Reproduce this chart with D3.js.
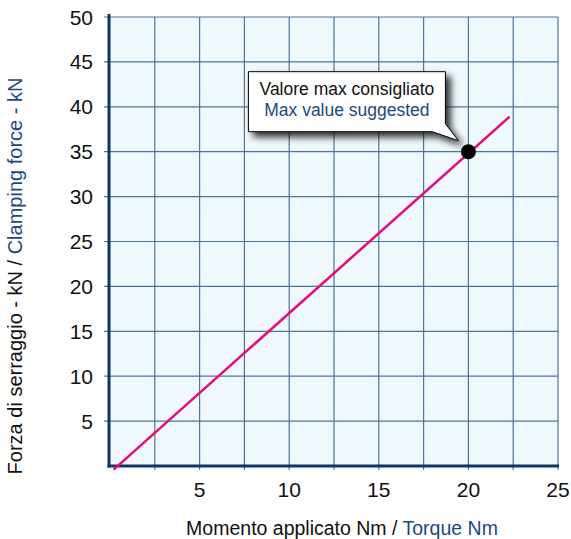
<!DOCTYPE html>
<html>
<head>
<meta charset="utf-8">
<script src="https://cdn.jsdelivr.net/npm/d3@7"></script>
<style>
  body { margin: 0; background: #fff; }
  svg { display: block; }
  text { font-family: "Liberation Sans Narrow", "Arial Narrow", "Liberation Sans", Arial, sans-serif; }
</style>
</head>
<body>
<div class="container"></div>
<script>
var xTicks = [5, 10, 15, 20, 25];
var yTicks = [5, 10, 15, 20, 25, 30, 35, 40, 45, 50];
var xGrid = [2.5, 5, 7.5, 10, 12.5, 15, 17.5, 20, 22.5, 25];

// torque (Nm) vs clamping force (kN)
var torque = [0.2, 22.3];
var force = [-0.4, 38.9];

var maxPoint = { torque: 20, force: 35 };
var calloutLines = ["Valore max consigliato", "Max value suggested"];

var svgWidth = 571;
var svgHeight = 539;

var margin = { top: 17, left: 110, right: 13, bottom: 73 };
var chartWidth = svgWidth - margin.left - margin.right;
var chartHeight = svgHeight - margin.top - margin.bottom;

var svg = d3.select(".container")
    .append("svg")
    .attr("width", svgWidth)
    .attr("height", svgHeight);

var defs = svg.append("defs");
var shadow = defs.append("filter")
    .attr("id", "shadow")
    .attr("x", "-20%").attr("y", "-20%")
    .attr("width", "150%").attr("height", "160%");
shadow.append("feDropShadow")
    .attr("dx", 5).attr("dy", 5)
    .attr("stdDeviation", 3.5)
    .attr("flood-color", "#000")
    .attr("flood-opacity", 0.8);

var chartGroup = svg.append("g")
    .attr("transform", `translate(${margin.left}, ${margin.top})`);

var x = d3.scaleLinear().domain([0, 25]).range([0, chartWidth]);
var y = d3.scaleLinear().domain([0, 50]).range([chartHeight, 0]);

chartGroup.append("rect")
    .attr("width", chartWidth)
    .attr("height", chartHeight)
    .attr("fill", "#eff8fc");

// grid
chartGroup.selectAll(".vgrid")
    .data(xGrid)
    .enter()
    .append("line")
    .attr("x1", d => x(d)).attr("x2", d => x(d))
    .attr("y1", 0).attr("y2", chartHeight + 4)
    .attr("stroke", "#4f7397")
    .attr("stroke-width", 1.2);

chartGroup.selectAll(".hgrid")
    .data(yTicks)
    .enter()
    .append("line")
    .attr("x1", -6).attr("x2", chartWidth)
    .attr("y1", d => y(d)).attr("y2", d => y(d))
    .attr("stroke", "#4f7397")
    .attr("stroke-width", 1.2);

// axes
chartGroup.append("line")
    .attr("x1", -1).attr("x2", -1)
    .attr("y1", -3).attr("y2", chartHeight + 1.5)
    .attr("stroke", "#0c3865")
    .attr("stroke-width", 3);
chartGroup.append("line")
    .attr("x1", -2.5).attr("x2", chartWidth + 1)
    .attr("y1", chartHeight).attr("y2", chartHeight)
    .attr("stroke", "#0c3865")
    .attr("stroke-width", 3);

// tick labels
chartGroup.selectAll(".ylab")
    .data(yTicks)
    .enter()
    .append("text")
    .attr("x", -17)
    .attr("y", d => y(d))
    .attr("dy", "0.36em")
    .attr("text-anchor", "end")
    .attr("font-size", 21)
    .attr("fill", "#111")
    .text(d => d);

chartGroup.selectAll(".xlab")
    .data(xTicks)
    .enter()
    .append("text")
    .attr("x", d => x(d))
    .attr("y", chartHeight + 31)
    .attr("text-anchor", "middle")
    .attr("font-size", 21)
    .attr("fill", "#111")
    .text(d => d);

// line
var lineData = torque.map((t, i) => ({ t: t, f: force[i] }));
chartGroup.append("path")
    .datum(lineData)
    .attr("d", d3.line().x(d => x(d.t)).y(d => y(d.f)))
    .attr("stroke", "#e8097f")
    .attr("stroke-width", 2.5)
    .attr("fill", "none");

// callout
var px = x(maxPoint.torque), py = y(maxPoint.force);
var bx = px - 220, by = py - 80, bw = 197, bh = 60;
var tipX = px - 10, tipY = py - 11;
var callout = chartGroup.append("g");
callout.append("path")
    .attr("d", `M${bx},${by} H${bx + bw} V${by + bh - 8} L${tipX},${tipY} L${bx + bw - 13},${by + bh} H${bx} Z`)
    .attr("fill", "#fff")
    .attr("stroke", "#000")
    .attr("stroke-width", 1)
    .attr("filter", "url(#shadow)");
callout.append("text")
    .attr("x", bx + bw / 2)
    .attr("y", by + 23)
    .attr("text-anchor", "middle")
    .attr("font-size", 17.5)
    .attr("fill", "#111")
    .text(calloutLines[0]);
callout.append("text")
    .attr("x", bx + bw / 2)
    .attr("y", by + 44)
    .attr("text-anchor", "middle")
    .attr("font-size", 17.5)
    .attr("fill", "#1b4a7c")
    .text(calloutLines[1]);

chartGroup.append("circle")
    .attr("cx", px).attr("cy", py)
    .attr("r", 7.5)
    .attr("fill", "#000");

// axis titles
var xTitle = svg.append("text")
    .attr("x", 342)
    .attr("y", 535)
    .attr("text-anchor", "middle")
    .attr("font-size", 19.5)
    .attr("fill", "#111");
xTitle.append("tspan").text("Momento applicato Nm / ");
xTitle.append("tspan").attr("fill", "#1b4a7c").text("Torque Nm");

var yTitle = svg.append("text")
    .attr("transform", "translate(22, 276) rotate(-90)")
    .attr("text-anchor", "middle")
    .attr("font-size", 20)
    .attr("fill", "#111");
yTitle.append("tspan").text("Forza di serraggio - kN / ");
yTitle.append("tspan").attr("fill", "#1b4a7c").text("Clamping force - kN");
</script>
</body>
</html>
